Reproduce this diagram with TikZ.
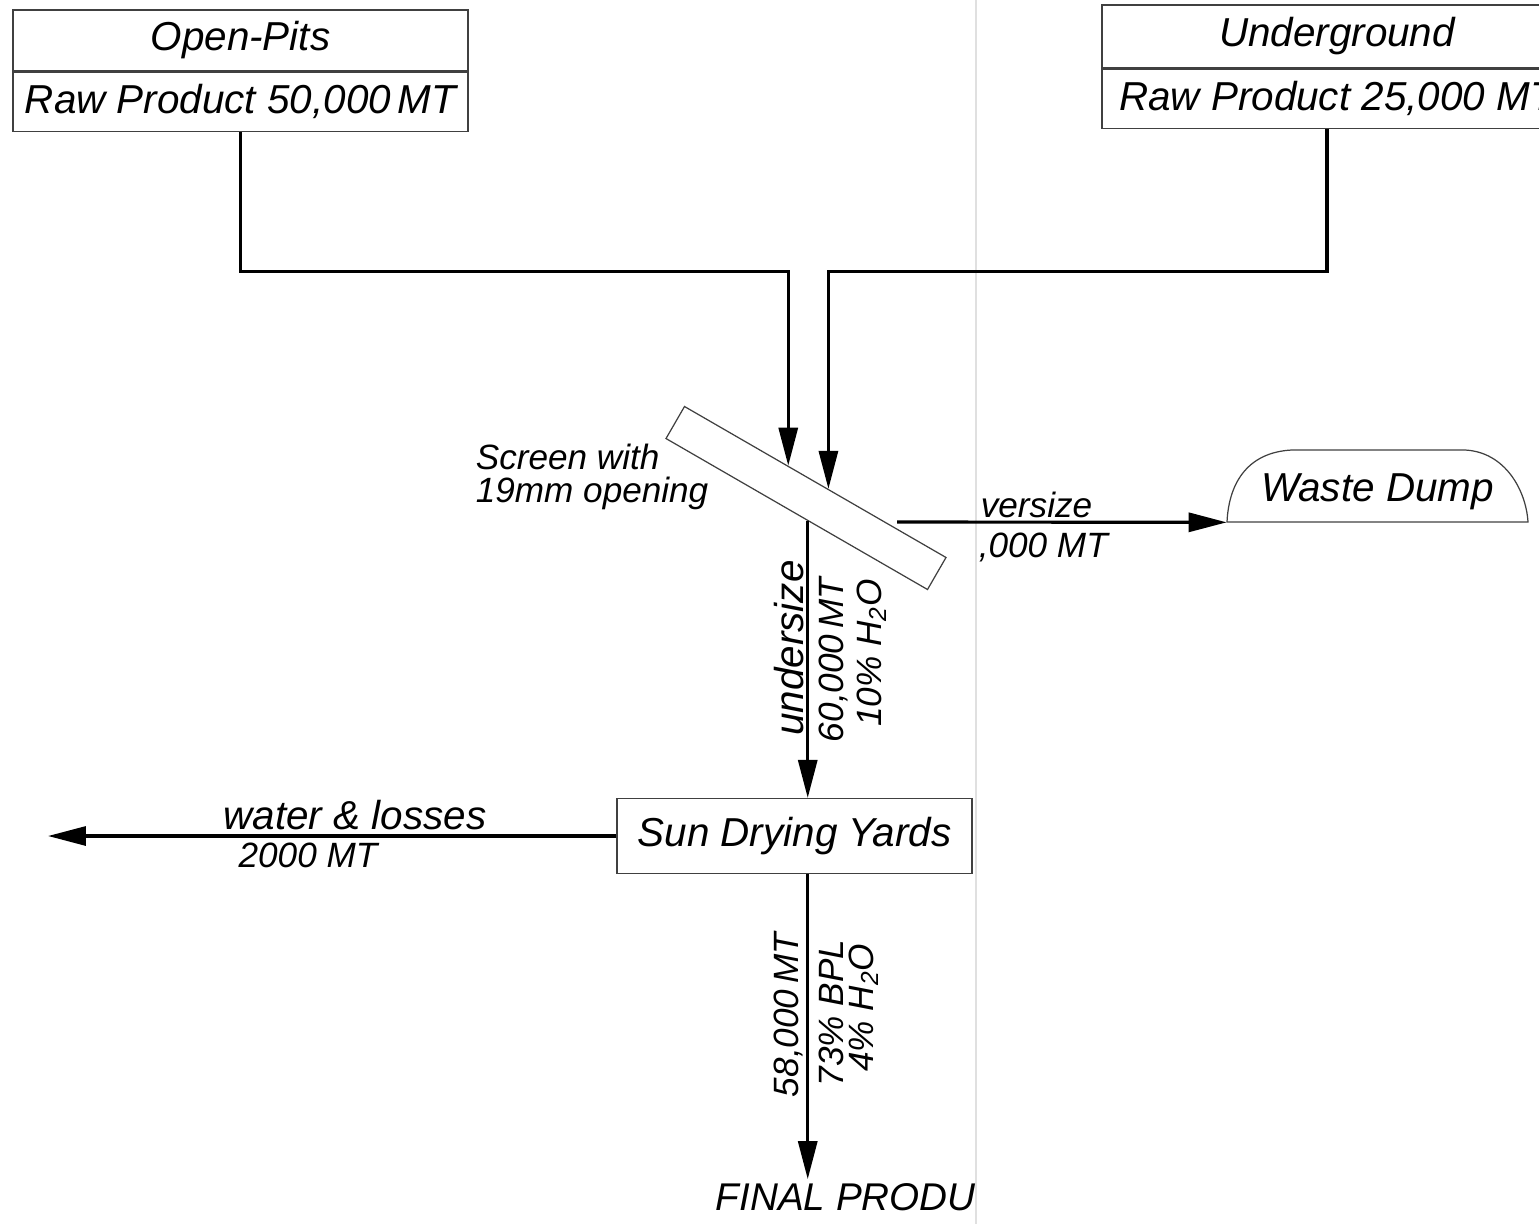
\documentclass[tikz,border=0pt]{standalone}
\usepackage{fontspec}
\setmainfont{Liberation Sans}
\usetikzlibrary{arrows.meta,positioning,calc}

\begin{document}
\begin{tikzpicture}[x=0.02cm, y=-0.02cm,
    txt/.style={font=\fontsize{23}{26}\selectfont\itshape, inner sep=2pt},
    num/.style={font=\fontsize{20}{23}\selectfont\itshape, inner sep=2pt},
    cell/.style={draw=black!75, line width=0.7pt, txt, inner sep=0pt},
    feed/.style={line width=1.8pt, -{Triangle[length=0.76cm, width=0.38cm]}},
    outline/.style={draw=black!75, line width=0.7pt}]
    \useasboundingbox (0,0) rectangle (1539,1224);
    \clip (0,0) rectangle (1539,1224);
    % paper seam
    \draw[black!12, line width=0.6pt] (976,0) -- (976,1224);
    % Sources
    \node[cell, minimum width=9.1cm, minimum height=1.22cm] (pits) at (240.5,40.5) {Open-Pits};
    \node[cell, minimum width=9.1cm, minimum height=1.18cm, below=0pt of pits] (pitsraw) {Raw Product 50,000\,MT};
    \node[cell, minimum width=9.4cm, minimum height=1.26cm] (ug) at (1337,36.5) {Underground};
    \node[cell, minimum width=9.4cm, minimum height=1.18cm, below=0pt of ug] (ugraw) {Raw Product 25,000 MT};
    % Screen
    \node[outline, rotate=-30, minimum width=6.04cm, minimum height=0.74cm, inner sep=0pt] (screen) at (806,498) {};
    \node[num, anchor=base west] (screenA) at (472,469) {Screen with};
    \node[num, anchor=base west] (screenB) at (472,502) {19mm opening};
    \draw[feed] (pitsraw.south) -- ++(0,140) -| ($(screen.north west)!0.396!(screen.north east)$);
    \draw[feed] ([xshift=-0.2cm]ugraw.south) -- ++(0,143) -| ($(screen.north west)!0.549!(screen.north east)$);
    % Waste dump
    \node[txt, inner sep=0pt, minimum width=6.02cm, minimum height=1.2cm] (dump) at (1377.5,492) {Waste Dump};
    \draw[outline] (1227,522) .. controls (1229,480) and (1250,452) .. (1292,450) -- (1465,450)
        .. controls (1505,452) and (1526,490) .. (1528,522) -- cycle;
    \coordinate (osz) at (897,522);
    \draw[feed] (osz) -- (dump.south west);
    \node[num, anchor=base west] (overA) at (977,517) {versize};
    \node[num, anchor=base west] (overB) at (975,557) {,000 MT};
    % Sun drying
    \node[cell, minimum width=7.1cm, minimum height=1.5cm] (dryer) at (794.5,836) {Sun Drying Yards};
    \coordinate (usz) at ($(screen.south west)!0.543!(screen.south east)$);
    \draw[feed] (usz) -- (usz |- dryer.north);
    \node[txt, rotate=90, anchor=base] (undlbl) at (803,648) {undersize};
    \node[num, rotate=90, anchor=base] (undmass) at (843,660) {60,000\,MT};
    \node[num, rotate=90, anchor=base] (undwater) at (881,653) {10\% H\textsubscript{2}O};
    % Water and losses
    \coordinate (waterend) at (48,836);
    \draw[feed] (dryer.west) -- (waterend);
    \node[txt, anchor=base] (lossA) at (355,829) {water \& losses};
    \node[num, anchor=base] (lossB) at (308,867) {2000 MT};
    % Final product
    \node[txt, font=\fontsize{22}{25}\selectfont\itshape, anchor=base west] (final) at (712,1210) {FINAL PRODU};
    \draw[feed] (dryer.south -| usz) -- (usz |- final.north);
    \node[num, rotate=90, anchor=base] (finmass) at (798,1015) {58,000\,MT};
    \node[num, rotate=90, anchor=base] (finbpl) at (843,1013) {73\% BPL};
    \node[num, rotate=90, anchor=base] (finwater) at (873,1008) {4\% H\textsubscript{2}O};
\end{tikzpicture}
\end{document}
